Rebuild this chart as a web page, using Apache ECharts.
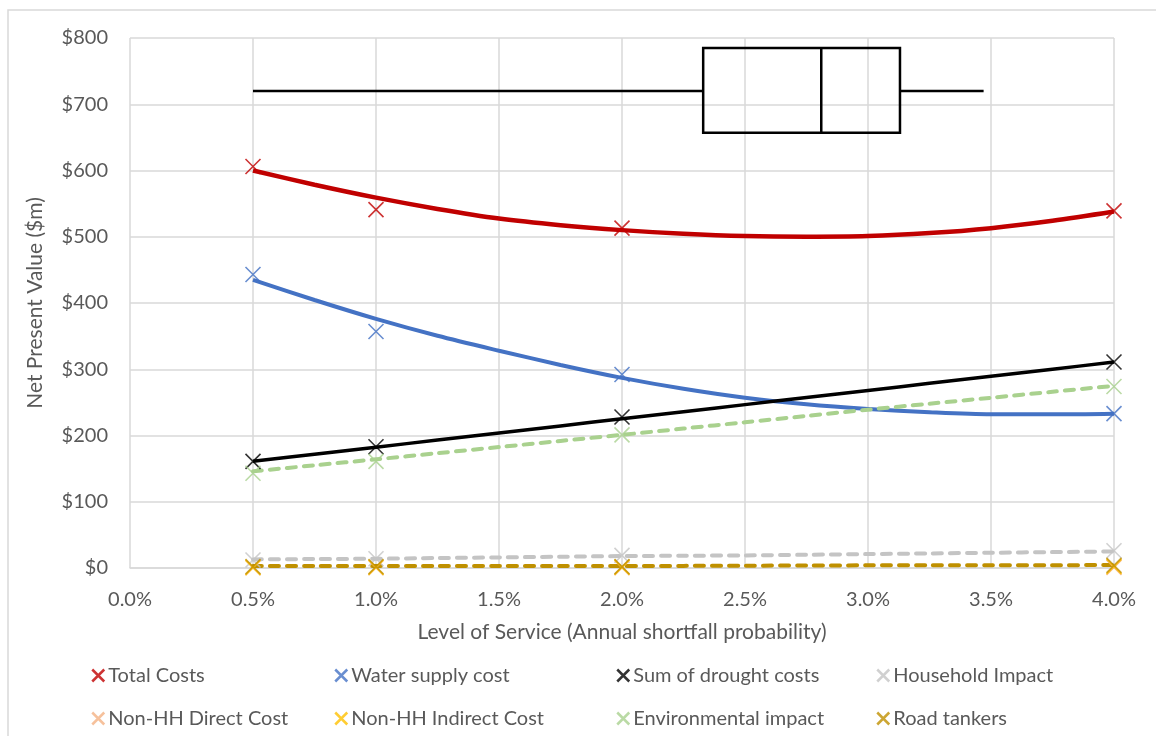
<!DOCTYPE html>
<html>
<head>
<meta charset="utf-8">
<script src="https://cdn.jsdelivr.net/npm/echarts@6/dist/echarts.min.js"></script>
<style>
  html, body { margin: 0; padding: 0; background: #ffffff; }
  #chart { width: 1156px; height: 736px; }
</style>
</head>
<body>
<div id="chart"></div>
<script>
// Level of service (annual shortfall probability, %) at which costs were evaluated
const levels = [0.5, 1.0, 2.0, 4.0];
// Points along each fitted trend line
const trendLevels = [0.5, 0.75, 1.0, 1.25, 1.5, 1.75, 2.0, 2.25, 2.5, 2.75, 3.0, 3.25, 3.5, 3.75, 4.0];

// Net present value ($m) per cost component
const totalCosts      = [606, 541, 513, 539];
const waterSupplyCost = [443, 357, 292, 233];
const droughtCosts    = [161, 183, 228, 311];
const householdImpact = [12, 14, 19, 26];
const nonHHDirect     = [0.3, 0.4, 0.5, 1];
const nonHHIndirect   = [0.5, 0.8, 1, 2];
const environmental   = [143, 161, 201, 274];
const roadTankers     = [2, 2, 2, 4];

// Fitted trend lines ($m)
const totalTrend     = [600, 578.5, 559, 542, 527.5, 517.5, 510, 504.5, 501, 500, 501, 505.5, 513, 524, 538];
const waterTrend     = [435, 404.5, 376, 350.5, 328, 306.5, 287, 270.5, 257, 247, 240, 235, 232, 232, 233];
const droughtTrend   = [161, 171.7, 182.4, 193.1, 203.8, 214.5, 225.2, 235.9, 246.6, 257.3, 268, 278.7, 289.4, 300.1, 310.8];
const householdTrend = [13, 13.5, 14, 15, 16, 17, 18, 18.5, 19, 20, 21, 22, 23, 24, 25];
const envTrend       = [146, 155, 164, 173.3, 182.5, 191.8, 201, 210.5, 220, 229.5, 239, 248, 257, 266, 275];
const tankerTrend    = [3, 3, 3, 3, 3, 3, 3, 3.2, 3.5, 3.7, 4, 4, 4, 4.2, 4.5];

// Distribution of the optimal level of service: [min, Q1, median, Q3, max]
const lsBox = [0.5, 2.33, 2.81, 3.13, 3.47];
// Vertical placement of the box ($m): whisker, box top, box bottom
const lsBoxY = [720, 785, 657];

const xTicks = { min: 0, max: 4, step: 0.5 };
const yTicks = { min: 0, max: 800, step: 100 };

const seriesNames = ['Total Costs', 'Water supply cost', 'Sum of drought costs', 'Household Impact',
  'Non-HH Direct Cost', 'Non-HH Indirect Cost', 'Environmental impact', 'Road tankers'];
const seriesValues = [totalCosts, waterSupplyCost, droughtCosts, householdImpact,
  nonHHDirect, nonHHIndirect, environmental, roadTankers];
const seriesColors = ['#C00000', '#4472C4', '#000000', '#C4C4C4', '#F4B183', '#FFC000', '#A9D18E', '#BF9000'];

const trends = [
  { idx: 0, values: totalTrend, width: 4.5, dashed: false },
  { idx: 1, values: waterTrend, width: 4, dashed: false },
  { idx: 2, values: droughtTrend, width: 3.5, dashed: false },
  { idx: 3, values: householdTrend, width: 4, dashed: true },
  { idx: 6, values: envTrend, width: 4, dashed: true },
  { idx: 7, values: tankerTrend, width: 4, dashed: true }
];

const FONT = 'Lato';
const TEXT = '#595959';
const CROSS = 'path://M0 0L10 10M10 0L0 10';

const pairs = (xs, ys) => xs.map((x, i) => [x, ys[i]]);

const series = [];

// Trend lines under the markers
trends.forEach(t => {
  series.push({
    type: 'line',
    name: seriesNames[t.idx] + ' trend',
    data: pairs(trendLevels, t.values),
    smooth: 0.3,
    showSymbol: false,
    silent: true,
    z: 2,
    lineStyle: {
      color: seriesColors[t.idx],
      width: t.width,
      type: t.dashed ? [9, 8] : 'solid',
      cap: t.dashed ? 'round' : 'butt'
    }
  });
});

// Observed values as cross markers
seriesNames.forEach((name, i) => {
  series.push({
    type: 'scatter',
    name: name,
    data: pairs(levels, seriesValues[i]),
    symbol: CROSS,
    symbolSize: 15,
    z: 3 + i * 0.1,
    itemStyle: { color: 'rgba(0,0,0,0)', borderColor: seriesColors[i], borderWidth: 1.6 }
  });
});

// Box-and-whisker of the optimal level of service
series.push({
  type: 'custom',
  name: 'box',
  silent: true,
  z: 4,
  data: [lsBox.concat(lsBoxY)],
  encode: { x: [0, 4], y: 5 },
  renderItem: function (params, api) {
    const lo = api.value(0), q1 = api.value(1), md = api.value(2), q3 = api.value(3), hi = api.value(4);
    const yc = api.value(5), yt = api.value(6), yb = api.value(7);
    const pLo = api.coord([lo, yc]), pQ1 = api.coord([q1, yc]);
    const pQ3 = api.coord([q3, yc]), pHi = api.coord([hi, yc]);
    const top = api.coord([q1, yt])[1], bot = api.coord([q1, yb])[1];
    const xm = api.coord([md, yc])[0];
    const st = { stroke: '#000', lineWidth: 2.5, fill: null };
    return {
      type: 'group',
      children: [
        { type: 'line', shape: { x1: pLo[0], y1: pLo[1], x2: pQ1[0], y2: pQ1[1] }, style: st },
        { type: 'line', shape: { x1: pQ3[0], y1: pQ3[1], x2: pHi[0], y2: pHi[1] }, style: st },
        { type: 'rect', shape: { x: pQ1[0], y: top, width: pQ3[0] - pQ1[0], height: bot - top }, style: st },
        { type: 'line', shape: { x1: xm, y1: top, x2: xm, y2: bot }, style: st }
      ]
    };
  }
});

// Legend: four columns of two rows, one legend box per entry
const legendLefts = [86, 329, 611, 871];
const legendTops = [660, 703];
const legends = seriesNames.map((name, i) => ({
  left: legendLefts[i % 4],
  top: legendTops[Math.floor(i / 4)],
  itemWidth: 12,
  itemHeight: 12,
  itemGap: 0,
  selectedMode: false,
  data: [name],
  textStyle: { fontFamily: FONT, fontSize: 20, color: TEXT, lineHeight: 21, padding: [0, 0, 0, -1] },
  itemStyle: { borderWidth: 2.5 }
}));

const chart = echarts.init(document.getElementById('chart'), null, { renderer: 'canvas' });
chart.setOption({
  backgroundColor: '#ffffff',
  animation: false,
  textStyle: { fontFamily: FONT },
  grid: { left: 130, right: 42, top: 38, bottom: 168, containLabel: false },
  legend: legends,
  graphic: [{
    type: 'rect',
    silent: true,
    shape: { x: 8, y: 10, width: 1170, height: 750 },
    style: { fill: null, stroke: '#D9D9D9', lineWidth: 1.5 }
  }],
  xAxis: {
    type: 'value',
    min: xTicks.min,
    max: xTicks.max,
    interval: xTicks.step,
    name: 'Level of Service (Annual shortfall probability)',
    nameLocation: 'middle',
    nameGap: 54,
    nameTextStyle: { fontFamily: FONT, fontSize: 21, color: TEXT },
    axisLine: { show: true, lineStyle: { color: '#D9D9D9', width: 1.5 } },
    axisTick: { show: false },
    axisLabel: { fontFamily: FONT, fontSize: 20, color: TEXT, margin: 22,
      formatter: v => v.toFixed(1) + '%' },
    splitLine: { show: true, lineStyle: { color: '#D9D9D9', width: 1.5 } }
  },
  yAxis: {
    type: 'value',
    min: yTicks.min,
    max: yTicks.max,
    interval: yTicks.step,
    name: 'Net Present Value ($m)',
    nameLocation: 'middle',
    nameGap: 84,
    nameTextStyle: { fontFamily: FONT, fontSize: 21, color: TEXT },
    axisLine: { show: false },
    axisTick: { show: false },
    axisLabel: { fontFamily: FONT, fontSize: 20, color: TEXT, margin: 22,
      formatter: v => '$' + v },
    splitLine: { show: true, lineStyle: { color: '#D9D9D9', width: 1.5 } }
  },
  series: series
});
</script>
</body>
</html>
